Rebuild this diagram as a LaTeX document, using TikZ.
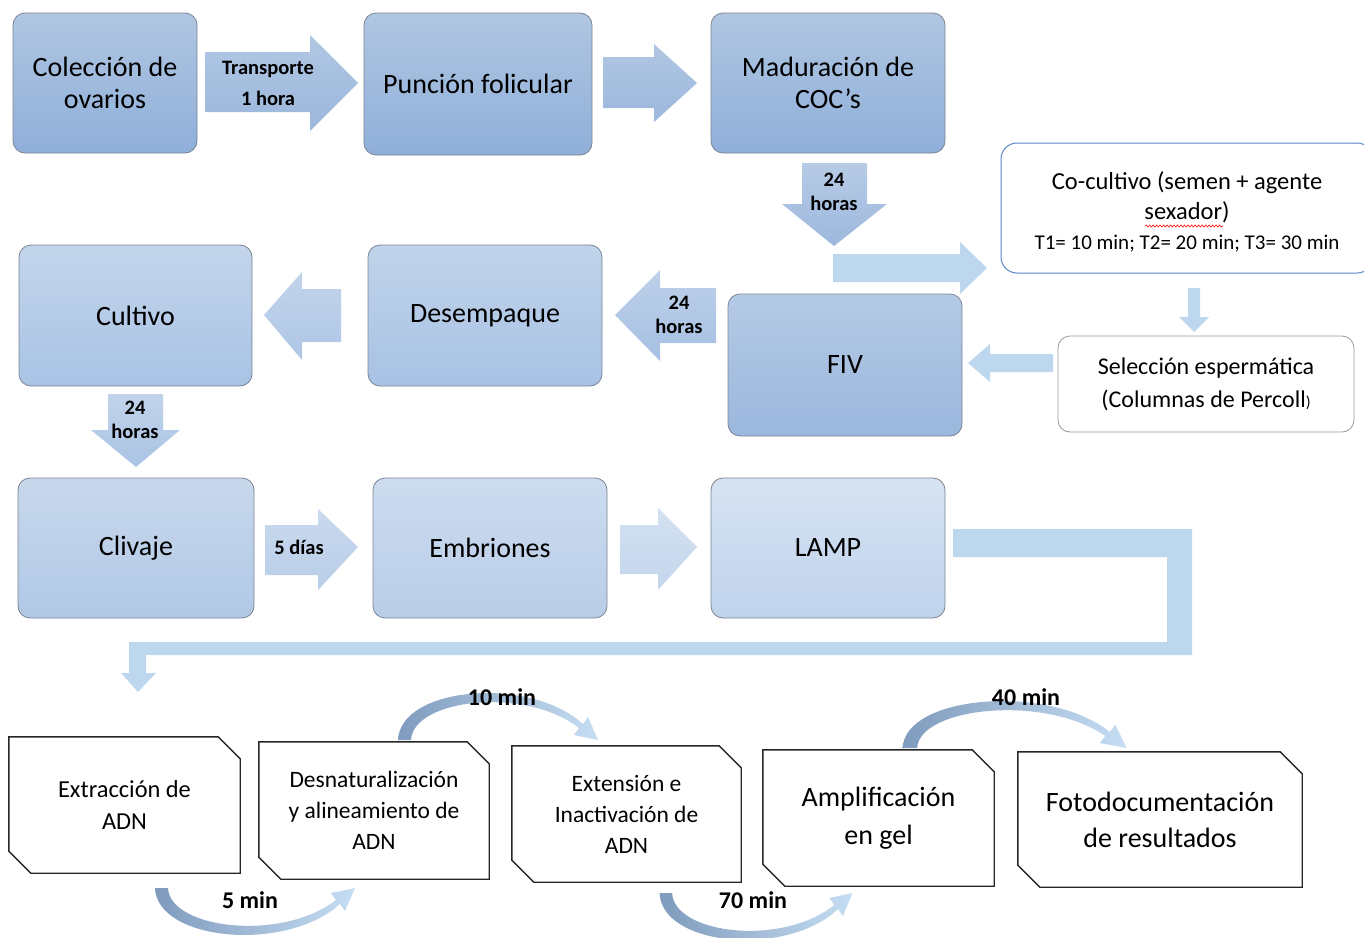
\documentclass[tikz,border=0pt]{standalone}
\usepackage{fontspec}
\setmainfont{Carlito}
\usetikzlibrary{calc,decorations.pathmorphing}
\definecolor{boxline}{HTML}{7A8494}
\definecolor{cAt}{HTML}{B0C6E2}\definecolor{cAb}{HTML}{8FAFD9}
\definecolor{cFt}{HTML}{B5CAE5}\definecolor{cFb}{HTML}{9AB7DD}
\definecolor{cDt}{HTML}{C0D3EA}\definecolor{cDb}{HTML}{A8C2E4}
\definecolor{cCt}{HTML}{C3D5EB}\definecolor{cCb}{HTML}{A9C3E5}
\definecolor{cVt}{HTML}{C8D8EC}\definecolor{cVb}{HTML}{B1C8E6}
\definecolor{cEt}{HTML}{CDDCEF}\definecolor{cEb}{HTML}{B8CDE8}
\definecolor{cLt}{HTML}{D6E3F2}\definecolor{cLb}{HTML}{C0D3EC}
\definecolor{a1t}{HTML}{B1C7E3}\definecolor{a1b}{HTML}{9BB7DC}
\definecolor{a3t}{HTML}{B7CBE5}\definecolor{a3b}{HTML}{9DB8DE}
\definecolor{a4t}{HTML}{BED1EA}\definecolor{a4b}{HTML}{A5BFE2}
\definecolor{a5t}{HTML}{C2D4EB}\definecolor{a5b}{HTML}{AEC6E6}
\definecolor{a6t}{HTML}{C1D3EA}\definecolor{a6b}{HTML}{AAC4E5}
\definecolor{a7t}{HTML}{CADAEE}\definecolor{a7b}{HTML}{B8CDE8}
\definecolor{a8t}{HTML}{D3E1F1}\definecolor{a8b}{HTML}{C4D6ED}
\definecolor{flatblue}{HTML}{BDD7EE}
\definecolor{cocolor}{HTML}{5A86C8}
\definecolor{cvdark}{HTML}{7F9BBD}
\definecolor{cvlight}{HTML}{C6DEF3}
\newcommand\snipoutline[1]{\draw[snipline] (#1.north west) -- ($(#1.north east)+(-22,0)$) -- ($(#1.north east)+(0,22)$) -- (#1.south east) -- ($(#1.south west)+(22,0)$) -- ($(#1.south west)+(0,-22)$) -- cycle;}
\newcommand\mycurve{\shade[left color=cvdark, right color=cvlight] (155,888) .. controls (157,941) and (286,953) .. (340,904) -- (345,911) -- (355,888) -- (331,893) -- (336,900) .. controls (282,942) and (170,929) .. (168,888) -- cycle;}
\begin{document}
\begin{tikzpicture}[x=1pt,y=-1pt,
  bluebox/.style={rounded corners=12pt, draw=boxline, line width=0.8pt, align=center, inner sep=0pt, font=\fontsize{28}{32}\selectfont},
  snipbox/.style={align=center, inner sep=0pt},
  snipline/.style={draw=black!85, line width=1.4pt, line join=miter},
  lbl/.style={align=center, inner sep=0pt, font=\bfseries\fontsize{20.5}{24}\selectfont},
  tlbl/.style={align=center, inner sep=0pt, font=\bfseries\fontsize{24}{28}\selectfont},
  flat/.style={fill=flatblue, draw=none}
]
\useasboundingbox (0,0) rectangle (1364,937);
\clip (0,0) rectangle (1364,937);

% ---- block arrows (gradient) ----
\shade[top color=a1t, bottom color=a1b] (205,52) -- (310,52) -- (310,35) -- (358,83) -- (310,131) -- (310,112) -- (205,112) -- cycle;
\shade[top color=a1t, bottom color=a1b] (603,57) -- (654,57) -- (654,44) -- (697,83) -- (654,122) -- (654,108) -- (603,108) -- cycle;
\shade[top color=a3t, bottom color=a3b] (802,163) -- (867,163) -- (867,204) -- (887,204) -- (834,246) -- (782,204) -- (802,204) -- cycle;
\shade[top color=a4t, bottom color=a4b] (716,288) -- (660,288) -- (660,270) -- (615,315) -- (660,361) -- (660,343) -- (716,343) -- cycle;
\shade[top color=a5t, bottom color=a5b] (341,289) -- (302,289) -- (302,272) -- (264,315) -- (302,360) -- (302,342) -- (341,342) -- cycle;
\shade[top color=a6t, bottom color=a6b] (108,394) -- (163,394) -- (163,430) -- (180,430) -- (136,467) -- (91,430) -- (108,430) -- cycle;
\shade[top color=a7t, bottom color=a7b] (265,525) -- (318,525) -- (318,509) -- (358,547) -- (318,590) -- (318,575) -- (265,575) -- cycle;
\shade[top color=a8t, bottom color=a8b] (620,525) -- (658,525) -- (658,508) -- (697,547) -- (658,590) -- (658,574) -- (620,574) -- cycle;

% ---- flat arrows ----
\fill[flat] (833,254) -- (960,254) -- (960,242) -- (987,268) -- (960,294) -- (960,282) -- (833,282) -- cycle;
\fill[flat] (1188,288) -- (1200,288) -- (1200,317) -- (1209,317) -- (1194,332) -- (1179,317) -- (1188,317) -- cycle;
\fill[flat] (1053,354) -- (990,354) -- (990,344) -- (968,363) -- (990,382) -- (990,372) -- (1053,372) -- cycle;
\fill[flat] (953,529) -- (1192,529) -- (1192,655) -- (146,655) -- (146,673) -- (156,673) -- (138,692) -- (121,673) -- (129,673) -- (129,642) -- (1167,642) -- (1167,557) -- (953,557) -- cycle;

% ---- arrow labels ----
\node[lbl, font=\bfseries\fontsize{20.5}{31}\selectfont] (ltr) at (268,83) {Transporte\\1 hora};
\node[lbl] (l24a) at (834,192) {24\\horas};
\node[lbl] (l24b) at (679,315) {24\\horas};
\node[lbl] (l24c) at (135,420) {24\\horas};
\node[lbl] (l5d) at (299,547) {5 días};

% ---- gradient boxes ----
\node[bluebox, top color=cAt, bottom color=cAb, minimum width=184, minimum height=140] (ovar) at (105,83) {Colección de\\ovarios};
\node[bluebox, top color=cAt, bottom color=cAb, minimum width=228, minimum height=142] (punc) at (478,84) {Punción folicular};
\node[bluebox, top color=cAt, bottom color=cAb, minimum width=234, minimum height=140] (madu) at (828,83) {Maduración de\\COC's};
\node[bluebox, top color=cFt, bottom color=cFb, minimum width=234, minimum height=142] (fiv) at (845,365) {FIV};
\node[bluebox, top color=cDt, bottom color=cDb, minimum width=234, minimum height=141] (desem) at (485,315.5) {Desempaque};
\node[bluebox, top color=cCt, bottom color=cCb, minimum width=233, minimum height=141] (cult) at (135.5,315.5) {Cultivo};
\node[bluebox, top color=cVt, bottom color=cVb, minimum width=236, minimum height=140] (cliv) at (136,548) {Clivaje};
\node[bluebox, top color=cEt, bottom color=cEb, minimum width=234, minimum height=140] (embr) at (490,548) {Embriones};
\node[bluebox, top color=cLt, bottom color=cLb, minimum width=234, minimum height=140] (lamp) at (828,548) {LAMP};

% ---- co-cultivo and seleccion ----
\node[draw=cocolor, line width=1pt, rounded corners=16pt, fill=white, minimum width=372, minimum height=130, inner sep=0pt] (cocul) at (1187,208) {};
\node[align=center, inner sep=0pt, font=\fontsize{24.5}{30}\selectfont] (cocultxt) at ($(cocul.center)+(0,4)$)
  {Co-cultivo (semen + agente\\sexador)\\{\fontsize{21}{29}\selectfont T1= 10 min; T2= 20 min; T3= 30 min}};
\draw[red, line width=0.6pt, decorate, decoration={snake, amplitude=1pt, segment length=3.5pt}] (1145,226) -- (1223,226);
\node[draw=black!40, line width=0.8pt, rounded corners=12pt, fill=white, minimum width=296, minimum height=96, align=center, inner sep=0pt, font=\fontsize{24}{33}\selectfont] (selec) at (1206,384)
  {Selección espermática\\(Columnas de Percoll{\fontsize{16}{16}\selectfont)}};

% ---- bottom row ----
\node[snipbox, minimum width=231, minimum height=136, font=\fontsize{24.4}{32}\selectfont] (b1) at (124.5,805) {Extracción de\\ADN};
\node[snipbox, minimum width=230, minimum height=137, font=\fontsize{23.5}{31}\selectfont] (b2) at (374,810.5) {Desnaturalización\\y alineamiento de\\ADN};
\node[snipbox, minimum width=229, minimum height=136, font=\fontsize{23.5}{31}\selectfont] (b3) at (626.5,814) {Extensión e\\Inactivación de\\ADN};
\node[snipbox, minimum width=231, minimum height=136, font=\fontsize{28}{38}\selectfont] (b4) at (878.5,818) {Amplificación\\en gel};
\node[snipbox, minimum width=284, minimum height=135, font=\fontsize{28}{36}\selectfont] (b5) at (1160,819.5) {Fotodocumentación\\de resultados};
\snipoutline{b1}\snipoutline{b2}\snipoutline{b3}\snipoutline{b4}\snipoutline{b5}

% ---- curved arrows ----
\begin{scope}\mycurve\end{scope}
\begin{scope}[shift={(510,5)}, xscale=0.965]\mycurve\end{scope}
\begin{scope}[shift={(243,1628)}, yscale=-1]\mycurve\end{scope}
\begin{scope}[shift={(729,1636)}, xscale=1.12, yscale=-1]\mycurve\end{scope}

\node[tlbl] (m5) at (250,900) {5 min};
\node[tlbl] (m10) at (502,697) {10 min};
\node[tlbl] (m70) at (753,900) {70 min};
\node[tlbl] (m40) at (1026,697) {40 min};
\end{tikzpicture}
\end{document}
